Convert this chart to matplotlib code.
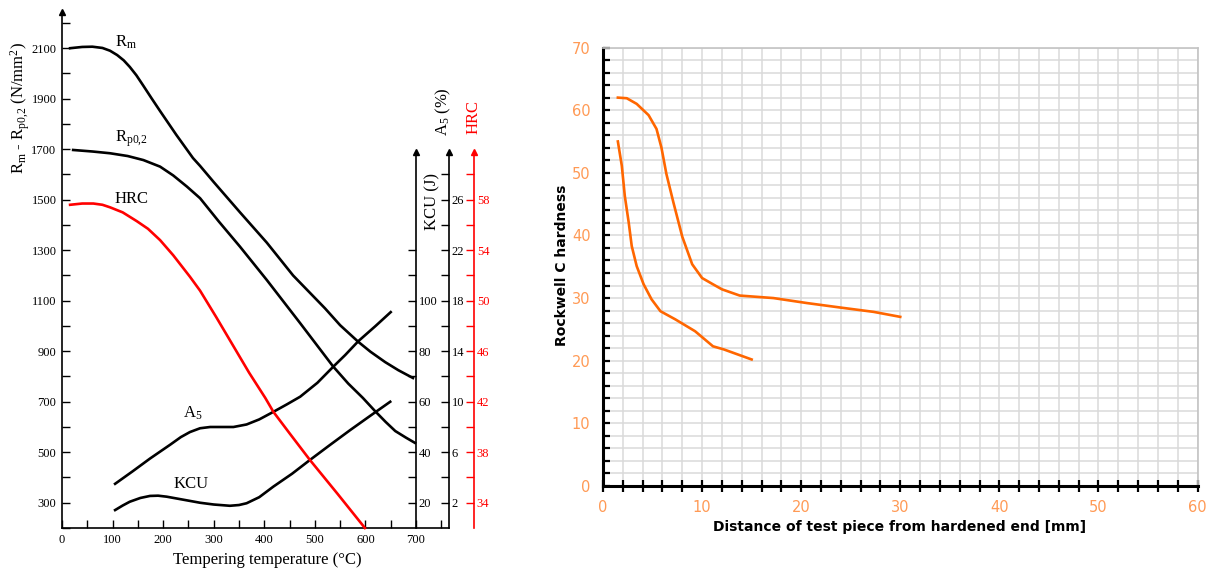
import numpy as np
import matplotlib
matplotlib.use("Agg")
import matplotlib.pyplot as plt

plt.rcParams['mathtext.fontset'] = 'custom'
plt.rcParams['mathtext.rm'] = 'Liberation Serif'
plt.rcParams['mathtext.it'] = 'Liberation Serif:italic'
plt.rcParams['mathtext.bf'] = 'Liberation Serif:bold'

# ---------------- Left chart data (tempering diagram) ----------------
rm_T = [16, 40, 60, 80, 95, 109, 122, 134, 147, 160, 177, 194, 226, 259, 273, 300, 352,
        405, 457, 520, 550, 586, 610, 639, 665, 694]
rm_V = [2100, 2105, 2106, 2101, 2090, 2073, 2052, 2026, 1993, 1954, 1902, 1851, 1757, 1665,
        1634, 1570, 1450, 1330, 1200, 1070, 1003, 937, 898, 857, 825, 794]

rp_T = [22, 60, 95, 130, 161, 194, 220, 247, 273, 310, 352, 405, 471, 536, 566, 595, 619,
        640, 659, 680, 698]
rp_V = [1697, 1691, 1684, 1673, 1657, 1631, 1596, 1552, 1506, 1414, 1314, 1182, 1011, 840,
        772, 715, 663, 620, 584, 558, 537]

hrc_T = [16, 40, 62, 80, 95, 120, 148, 170, 194, 220, 253, 273, 305, 339, 370, 402, 418,
         450, 490, 545, 599]
hrc_V = [57.6, 57.7, 57.7, 57.6, 57.4, 57.0, 56.3, 55.7, 54.8, 53.6, 51.9, 50.8, 48.7, 46.4,
         44.3, 42.3, 41.2, 39.5, 37.4, 34.7, 32.0]

a5_T = [105, 140, 174, 214, 235, 253, 273, 293, 315, 339, 365, 390, 418, 445, 471, 505,
        537, 560, 586, 620, 650]
a5_V = [3.5, 4.5, 5.5, 6.6, 7.2, 7.6, 7.9, 8.0, 8.0, 8.0, 8.2, 8.6, 9.2, 9.8, 10.4, 11.5,
        12.8, 13.7, 14.8, 16.0, 17.1]

kcu_T = [105, 120, 134, 155, 174, 190, 207, 240, 273, 300, 332, 350, 365, 390, 418, 455,
         490, 530, 570, 610, 649]
kcu_V = [17.1, 18.9, 20.4, 21.9, 22.7, 22.8, 22.4, 21.2, 20.0, 19.3, 18.8, 19.1, 19.8, 22.2,
         26.4, 31.5, 36.9, 42.9, 48.8, 54.5, 60.0]

temp_ticks = list(range(0, 701, 100))
stress_ticks = list(range(300, 2101, 200))
kcu_ticks = list(range(20, 101, 20))
a5_ticks = list(range(2, 27, 4))
hrc_ticks = list(range(34, 59, 4))

# ---------------- Right chart data (Jominy curves) ----------------
upper_x = [1.5, 2.4, 3.4, 4.6, 5.4, 5.9, 6.4, 7.1, 8.0, 9.0, 10.0, 11.1, 12.0, 13.8, 17.2,
           20.6, 23.9, 27.3, 30.0]
upper_y = [62.0, 61.9, 61.0, 59.2, 57.0, 54.0, 49.8, 45.3, 39.8, 35.4, 33.2, 32.2, 31.4,
           30.4, 30.0, 29.2, 28.5, 27.8, 27.0]
lower_x = [1.5, 1.9, 2.2, 2.6, 2.9, 3.4, 4.1, 4.9, 5.8, 7.3, 9.3, 11.1, 12.2, 15.0]
lower_y = [55.0, 51.1, 46.3, 42.0, 38.3, 35.1, 32.2, 29.8, 27.9, 26.6, 24.7, 22.3, 21.8, 20.2]
dist_ticks = list(range(0, 61, 10))
hard_ticks = list(range(0, 71, 10))

W, H = 1210, 571
fig = plt.figure(figsize=(W / 100, H / 100), dpi=100)

def px(x, y):
    return x / W, 1 - y / H

serif = 'Liberation Serif'

# ---------------- Left chart ----------------
ax = fig.add_axes([62 / W, 43 / H, 387 / W, 516 / H])
ax.set_xlim(0, 765.25)
ax.set_ylim(200, 2243.4)
ax.patch.set_visible(False)
for s in ['top', 'right']:
    ax.spines[s].set_visible(False)
for s in ['left', 'bottom']:
    ax.spines[s].set_linewidth(1.2)
ax.set_xticks(temp_ticks)
ax.set_xticks(np.arange(50, 751, 100), minor=True)
ax.set_yticks(stress_ticks)
ax.set_yticks(np.arange(200, 2201, 200), minor=True)
ax.tick_params(which='both', direction='in', length=6, width=1, labelsize=9, pad=4)
for lab in ax.get_xticklabels() + ax.get_yticklabels():
    lab.set_fontfamily(serif)
ax.plot([0], [1], marker='^', color='k', ms=5, transform=ax.transAxes, clip_on=False)

ax.plot(rm_T, rm_V, color='k', lw=1.9, solid_joinstyle='round')
ax.plot(rp_T, rp_V, color='k', lw=1.9, solid_joinstyle='round')

def make_twin(pos, lo, hi, top, color, major, minor):
    a = ax.twinx()
    a.set_ylim(lo, hi)
    for s in ['left', 'top', 'bottom']:
        a.spines[s].set_visible(False)
    a.spines['right'].set_position(('axes', pos))
    a.spines['right'].set_bounds(lo, top)
    a.spines['right'].set_color(color)
    a.spines['right'].set_linewidth(1.2)
    a.set_yticks(major)
    a.set_yticks(minor, minor=True)
    a.tick_params(axis='y', which='both', direction='in', length=6, width=1,
                  colors=color, labelsize=9, pad=2)
    for lab in a.get_yticklabels():
        lab.set_fontfamily(serif)
    a.plot([pos], [(top - lo) / (hi - lo)], marker='^', color=color, ms=5,
           transform=a.transAxes, clip_on=False)
    return a

ax_kcu = make_twin(0.9147, 10, 214.34, 158.9, 'k', kcu_ticks, [30, 50, 70, 90, 110, 120])
ax_a5 = make_twin(1.0, 0, 40.87, 29.8, 'k', a5_ticks, list(range(4, 29, 4)))
ax_hrc = make_twin(1.0646, 32, 72.87, 61.8, 'red', hrc_ticks, list(range(36, 61, 4)))

ax_hrc.plot(hrc_T, hrc_V, color='red', lw=1.9, clip_on=False, solid_joinstyle='round')
ax_a5.plot(a5_T, a5_V, color='k', lw=1.9, solid_joinstyle='round')
ax_kcu.plot(kcu_T, kcu_V, color='k', lw=1.9, solid_joinstyle='round')

ax.text(105, 2105, r'R$_\mathrm{m}$', fontsize=12, family=serif)
ax.text(105, 1730, r'R$_\mathrm{p0{,}2}$', fontsize=12, family=serif)
ax.text(103, 1488, 'HRC', fontsize=12, family=serif)
ax.text(239, 636, r'A$_5$', fontsize=12, family=serif)
ax.text(220, 358, 'KCU', fontsize=12, family=serif)

fig.text(*px(267, 560), 'Tempering temperature (°C)', fontsize=12, family=serif,
         ha='center', va='center')
fig.text(*px(20, 108), r'R$_\mathrm{m}$ - R$_\mathrm{p0{,}2}$ (N/mm$^\mathrm{2}$)', fontsize=12,
         family=serif, ha='center', va='center', rotation=90)
fig.text(*px(432, 202), 'KCU (J)', fontsize=12, family=serif, ha='center', va='center', rotation=90)
fig.text(*px(443, 112), r'A$_5$ (%)', fontsize=12, family=serif, ha='center', va='center', rotation=90)
fig.text(*px(474, 117), 'HRC', fontsize=12, family=serif, ha='center', va='center', rotation=90,
         color='red')

# ---------------- Right chart ----------------
orange = '#ff6600'
lab_orange = '#ff9a55'
bx = fig.add_axes([603 / W, (H - 486) / H, 594.5 / W, 438.5 / H])
bx.set_xlim(0, 60)
bx.set_ylim(0, 70)
bx.set_axisbelow(True)
bx.set_xticks(dist_ticks)
bx.set_xticks(np.arange(0, 61, 2), minor=True)
bx.set_yticks(hard_ticks)
bx.set_yticks(np.arange(0, 71, 2), minor=True)
bx.grid(which='both', color='#dadada', lw=1.1)
for s in ['left', 'bottom']:
    bx.spines[s].set_linewidth(2.2)
    bx.spines[s].set_color('k')
for s in ['top', 'right']:
    bx.spines[s].set_linewidth(1.2)
    bx.spines[s].set_color('#c4c4c4')
bx.tick_params(axis='y', which='both', direction='in', length=5, width=1.6, color='k',
               labelcolor=lab_orange, labelsize=10.5, pad=9)
bx.tick_params(axis='x', which='both', direction='inout', length=8, width=1.6, color='k',
               labelcolor=lab_orange, labelsize=10.5, pad=6)

bx.plot(upper_x, upper_y, color=orange, lw=1.9, solid_joinstyle='round')
bx.plot(lower_x, lower_y, color=orange, lw=1.9, solid_joinstyle='round')

fig.text(*px(562, 265), 'Rockwell C hardness', fontsize=10, fontweight='bold',
         ha='center', va='center', rotation=90)
fig.text(*px(900, 527), 'Distance of test piece from hardened end [mm]', fontsize=10,
         fontweight='bold', ha='center', va='center')

fig.savefig('out.png', dpi=100)
